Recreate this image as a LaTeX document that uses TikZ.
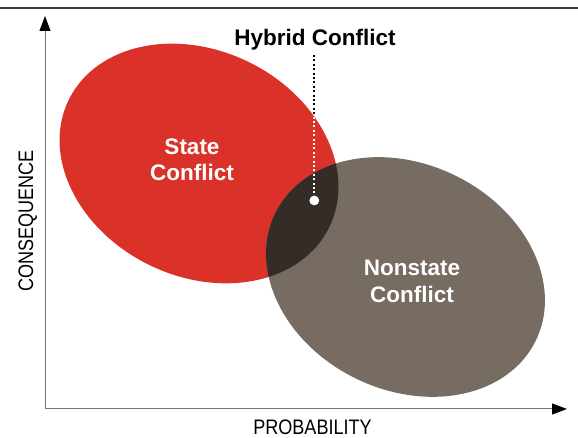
\documentclass[tikz,border=0pt]{standalone}
\usepackage{fontspec}
\setmainfont{Liberation Sans}
\usetikzlibrary{arrows.meta}
\definecolor{redc}{HTML}{DA3228}
\definecolor{grayc}{HTML}{766C62}
\definecolor{darkc}{HTML}{332C27}
\definecolor{axisc}{HTML}{777777}
\definecolor{rulec}{HTML}{3A3A3A}
\tikzset{
  axisline/.style={draw=axisc, line width=1pt, -{Triangle[length=15pt,width=11pt,fill=black,color=black]}},
  bigwhite/.style={text=white, font=\fontsize{22.5}{26}\selectfont\bfseries, align=center, anchor=base},
  axislabel/.style={font=\fontsize{21}{24}\selectfont, anchor=base},
  dotline/.style={line width=2pt, dash pattern=on 2pt off 2.4pt},
}
\begin{document}
\begin{tikzpicture}[x=1pt,y=1pt]
\useasboundingbox (0,0) rectangle (578,438);
% top rule
\draw[rulec, line width=1.4pt] (0,430) -- (578,430);
% ellipses
\coordinate (rc) at (199,274.5);
\coordinate (gc) at (405.5,161);
\fill[redc, rotate around={-26:(rc)}] (rc) ellipse [x radius=145, y radius=113];
\fill[grayc, rotate around={-26:(gc)}] (gc) ellipse [x radius=145, y radius=113];
\begin{scope}
  \clip[rotate around={-26:(rc)}] (rc) ellipse [x radius=145, y radius=113];
  \fill[darkc, rotate around={-26:(gc)}] (gc) ellipse [x radius=145, y radius=113];
\end{scope}
% axes
\coordinate (o) at (45,29);
\coordinate (xe) at (567,29);
\coordinate (ye) at (45,422);
\draw[axisline] (o) -- (xe);
\draw[axisline] (o) -- (ye);
\node[axislabel] (px) at (312.5,3.5) {\scalebox{0.86}[1]{PROBABILITY}};
\node[axislabel, rotate=90] (py) at (33,217) {\scalebox{0.86}[1]{CONSEQUENCE}};
% labels
\node[bigwhite] (s1) at (192,283) {State};
\node[bigwhite] (s2) at (192,257) {Conflict};
\node[bigwhite] (n1) at (412,162) {Nonstate};
\node[bigwhite] (n2) at (412,135) {Conflict};
\node[font=\fontsize{22.5}{26}\selectfont\bfseries, anchor=base] (hyb) at (315,392) {Hybrid Conflict};
\coordinate (ht) at (314.3,383);
\node[circle, fill=white, inner sep=0pt, minimum size=9.5pt] (dot) at (314.3,237.5) {};
\draw[dotline, black] (ht) -- (dot.center);
\begin{scope}
  \clip[rotate around={-26:(rc)}] (rc) ellipse [x radius=145, y radius=113];
  \draw[dotline, white] (ht) -- (dot.center);
\end{scope}
\node[circle, fill=white, inner sep=0pt, minimum size=9.5pt] at (dot) {};
\end{tikzpicture}
\end{document}
